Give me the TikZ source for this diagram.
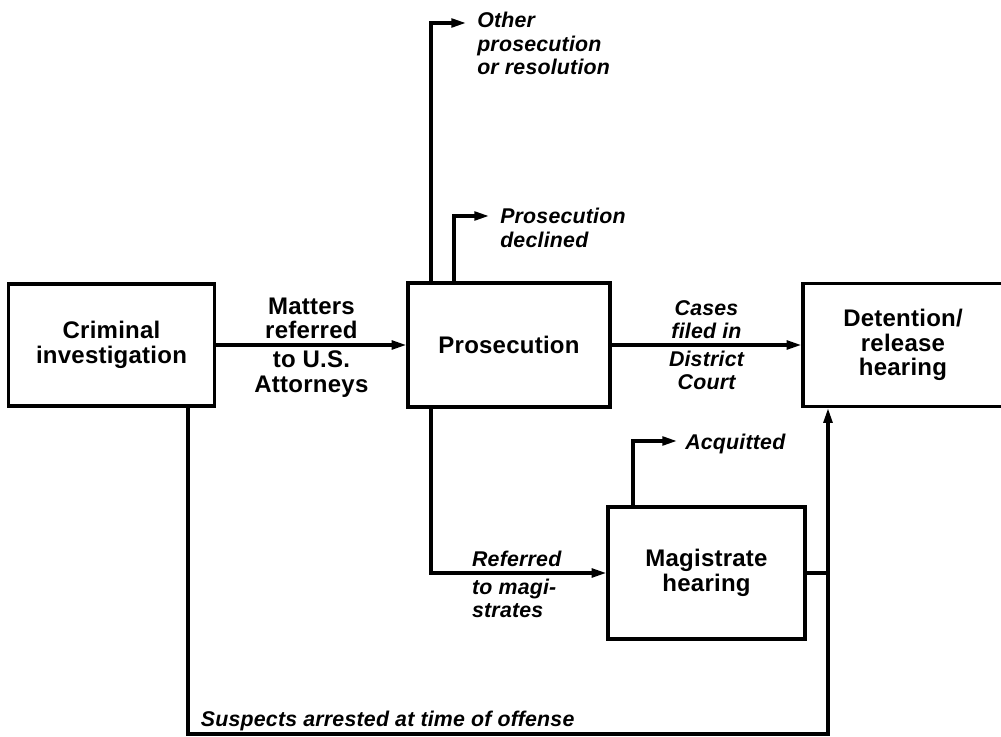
\documentclass[tikz,border=0pt]{standalone}
\usepackage{fontspec}
\setmainfont{Liberation Sans}[LetterSpace=1]
\usetikzlibrary{arrows.meta}

\newcommand{\boxfont}{\fontsize{18}{18.5}\selectfont\bfseries}
\newcommand{\lblfont}{\fontsize{16}{17.5}\selectfont\bfseries\itshape}

\begin{document}
\begin{tikzpicture}[x=0.75pt, y=-0.75pt,
  stage/.style={draw, line width=2.4pt, align=center, font=\boxfont, inner sep=0pt},
  upr/.style={font=\boxfont, align=center},
  ital/.style={font=\lblfont, align=center},
  lbl/.style={font=\lblfont, align=left},
  flow/.style={line width=2.4pt, -{Triangle[length=11pt, width=6.5pt]}},
  link/.style={line width=2.4pt}]

\useasboundingbox (0,0) rectangle (1001,737);

% the four stages
\node[stage, minimum width=155pt, minimum height=91.5pt] (crim) at (111.5,345) {Criminal\\investigation};
\node[stage, minimum width=151.5pt, minimum height=93pt] (pros) at (509,345) {Prosecution};
\node[stage, minimum width=150pt, minimum height=92.25pt] (det) at (903,345) {Detention/\\release\\hearing};
\node[stage, minimum width=147.75pt, minimum height=99pt] (mag) at (706.5,573) {Magistrate\\hearing};

% loose ends
\coordinate (oth) at (466,23);
\coordinate (dec) at (489,216);
\coordinate (acq) at (677,441);
\coordinate (jn) at (828,573);
\coordinate (bot) at (828,734);

% main line
\draw[flow] (crim) -- node[above, upr] (lmat) {Matters\\referred}
  node[below, upr] (latt) {to U.S.\\Attorneys} (pros);
\draw[flow] (pros) -- node[above, ital] (lcas) {Cases\\filed in}
  node[below, ital] (ldis) {District\\Court} (det);

% branches off prosecution
\draw[flow] (pros.north -| 431,0) |- (oth);
\node[lbl, inner sep=0pt, anchor=north west] (loth) at (477,12) {Other\\prosecution\\or resolution};
\draw[flow] (pros.north -| 454,0) |- (dec);
\node[lbl, inner sep=0pt, anchor=north west] (ldec) at (500,208) {Prosecution\\declined};
\draw[flow] (pros.south -| 431,0) |- node[pos=.6, above right, lbl] (lref) {Referred}
  node[pos=.6, below right, lbl] (lmagi) {to magi-\\strates} (mag.west);

% magistrate
\draw[flow] (mag.north -| 633,0) |- (acq);
\node[lbl, inner sep=0pt, anchor=base west] (lacq) at (685,450) {Acquitted};
\draw[link] (mag.east) -- (jn);

% arrested on the spot
\draw[flow] (crim.south -| 188,0) |- node[pos=.656, above, ital, inner sep=1pt] (lsus)
  {Suspects arrested at time of offense} (bot) -- (det.south -| bot);

\end{tikzpicture}
\end{document}
